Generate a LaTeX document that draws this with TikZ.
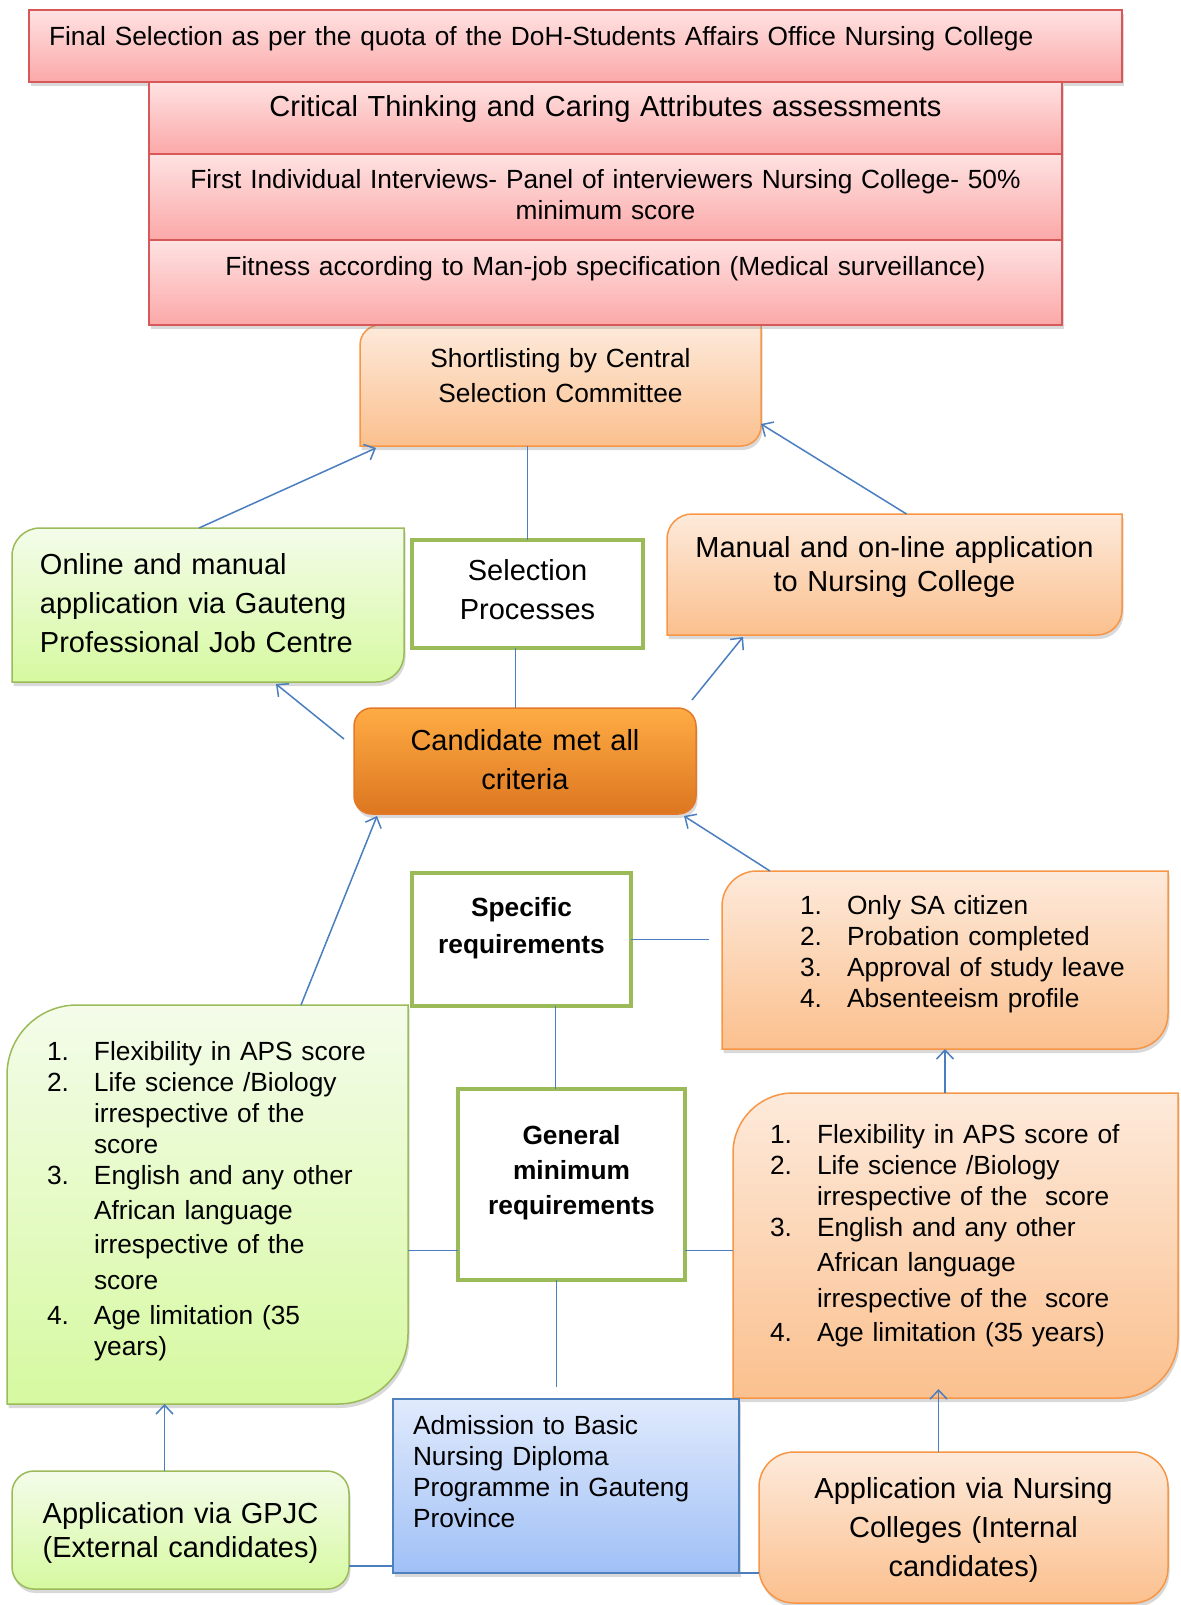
\documentclass[tikz,border=0pt]{standalone}
\usepackage{fontspec}
\setmainfont{Liberation Sans}
\usepackage{tikz}
\usetikzlibrary{arrows.meta, positioning, calc, shadows, backgrounds}

\definecolor{redline}{RGB}{214,88,88}
\definecolor{redtop}{RGB}{254,226,226}
\definecolor{redbot}{RGB}{252,168,168}
\definecolor{orangeline}{RGB}{247,150,70}
\definecolor{orangetop}{RGB}{253,234,219}
\definecolor{orangebot}{RGB}{251,192,142}
\definecolor{greenline}{RGB}{155,187,89}
\definecolor{greentop}{RGB}{244,252,234}
\definecolor{greenbot}{RGB}{214,249,160}
\definecolor{candtop}{RGB}{255,172,68}
\definecolor{candmid}{RGB}{247,146,48}
\definecolor{candbot}{RGB}{220,118,32}
\definecolor{candline}{RGB}{228,120,40}
\definecolor{blueline}{RGB}{79,129,189}
\definecolor{bluetop}{RGB}{224,234,252}
\definecolor{bluebot}{RGB}{160,192,246}
\definecolor{linkblue}{RGB}{74,126,190}

\newcommand{\itemno}[1]{\makebox[47pt][l]{#1.}}
\newcommand{\itemgap}{\hspace*{47pt}}
% outline with rounded top-left and bottom-right corners
\newcommand{\diagshape}[2]{(#1.south west) -- ([yshift=-#2]#1.north west) arc[start angle=180, end angle=90, radius=#2] -- (#1.north east) -- ([yshift=#2]#1.south east) arc[start angle=0, end angle=-90, radius=#2] -- cycle}

\tikzset{
    shadowed/.style={
        drop shadow={shadow xshift=1.5pt, shadow yshift=-4pt, opacity=0.3}
    },
    txt/.style 2 args={
        font=\fontsize{#1}{#2}\selectfont
    },
    boldtxt/.style 2 args={
        font=\bfseries\fontsize{#1}{#2}\selectfont
    },
    boxsize/.style n args={3}{
        text width=#1,
        text height=#2,
        text depth=#3
    },
    lpad/.style={
        align=left,
        execute at begin node={\leftskip=#1\relax}
    },
    redbox/.style={
        rectangle,
        draw=redline,
        line width=1.5pt,
        top color=redtop,
        bottom color=redbot,
        shadowed,
        inner sep=0pt,
        outer sep=0pt,
        align=center,
        txt={26.3}{31}
    },
    textarea/.style={
        rectangle,
        draw=none,
        inner sep=0pt,
        outer sep=0pt,
        align=center
    },
    orangefill/.style={
        draw=orangeline,
        line width=1.5pt,
        top color=orangetop,
        bottom color=orangebot,
        shadowed
    },
    greenfill/.style={
        draw=greenline,
        line width=1.5pt,
        top color=greentop,
        bottom color=greenbot,
        shadowed
    },
    whitebox/.style={
        rectangle,
        draw=greenline,
        line width=4.5pt,
        fill=white,
        inner sep=0pt,
        outer sep=0pt,
        align=center
    },
    candbox/.style={
        rectangle,
        rounded corners=18pt,
        draw=candline,
        line width=1.5pt,
        top color=candtop,
        middle color=candmid,
        bottom color=candbot,
        shadowed,
        inner sep=0pt,
        outer sep=0pt,
        align=center,
        txt={29}{39}
    },
    bluebox/.style={
        rectangle,
        draw=blueline,
        line width=1.5pt,
        top color=bluetop,
        bottom color=bluebot,
        shadowed,
        inner sep=0pt,
        outer sep=0pt
    },
    greenround/.style={
        rectangle,
        rounded corners=22pt,
        greenfill,
        inner sep=0pt,
        outer sep=0pt,
        align=center
    },
    orangeround/.style={
        rectangle,
        rounded corners=35pt,
        orangefill,
        inner sep=0pt,
        outer sep=0pt,
        align=center
    },
    link/.style={
        draw=linkblue,
        line width=1.5pt
    },
    arrow/.style={
        link,
        -{Straight Barb[length=9pt, width=17pt]}
    },
}

\begin{document}
\begin{tikzpicture}[x=1pt, y=1pt]
\useasboundingbox (0,0) rectangle (1180,-1605);

% Selection steps
\node[redbox, lpad=20pt, boxsize={1093pt}{36pt}{36pt}, anchor=north west] (final) at (29,-10)
    {Final Selection as per the quota of the DoH-Students Affairs Office Nursing College};
\node[redbox, txt={29}{35}, boxsize={913pt}{35pt}{37pt}, below right=0pt and 120pt of final.south west] (critical)
    {Critical Thinking and Caring Attributes assessments};
\node[redbox, boxsize={913pt}{35pt}{51pt}, below=0pt of critical] (interview)
    {First Individual Interviews- Panel of interviewers Nursing College- 50\%\\minimum score};
\node[redbox, boxsize={913pt}{35pt}{50pt}, below=0pt of interview] (fitness)
    {Fitness according to Man-job specification (Medical surveillance)};

% Shortlisting
\node[textarea, txt={26.3}{35}, boxsize={401pt}{42pt}{79pt}, below right=0pt and 211pt of fitness.south west] (shortlist)
    {Shortlisting by Central\\Selection Committee};

% Applications
\node[textarea, txt={29}{39}, lpad=28pt, boxsize={392pt}{46pt}{108pt}, anchor=north west] (online) at (12,-528)
    {Online and manual\\application via Gauteng\\Professional Job Centre};
\node[whitebox, txt={29}{39}, boxsize={231pt}{40pt}{68pt}, anchor=north west] (selproc) at (412,-540)
    {Selection\\Processes};
\node[textarea, txt={29}{34}, boxsize={455pt}{43pt}{78pt}, anchor=north west] (manual) at (667,-514)
    {Manual and on-line application\\to Nursing College};

% Candidate
\node[candbox, boxsize={342pt}{42pt}{64pt}, anchor=north west] (candidate) at (354,-708)
    {Candidate met all\\criteria};

% Specific requirements
\node[whitebox, boldtxt={26.3}{37}, boxsize={219pt}{43pt}{90pt}, anchor=north west] (specific) at (412,-873)
    {Specific\\requirements};
\node[textarea, txt={26.3}{31}, lpad=78pt, boxsize={446pt}{43pt}{135pt}, anchor=north west] (speclist) at (722,-871)
    {\itemno{1}Only SA citizen\\
     \itemno{2}Probation completed\\
     \itemno{3}Approval of study leave\\
     \itemno{4}Absenteeism profile};

% General minimum requirements
\node[textarea, txt={26.3}{31}, lpad=40pt, boxsize={401pt}{55pt}{344pt}, anchor=north west] (genlist) at (7,-1005)
    {\itemno{1}Flexibility in APS score\\
     \itemno{2}Life science /Biology\\
     \itemgap irrespective of the\\
     \itemgap score\\
     \itemno{3}English and any other\\[4pt]
     \itemgap African language\\[3pt]
     \itemgap irrespective of the\\[5pt]
     \itemgap score\\[4pt]
     \itemno{4}Age limitation (35\\
     \itemgap years)};
\node[whitebox, boldtxt={26.3}{35}, boxsize={227pt}{55pt}{136pt}, anchor=north west] (general) at (458,-1089)
    {General\\minimum\\requirements};
\node[textarea, txt={26.3}{31}, lpad=37pt, boxsize={445pt}{50pt}{255pt}, anchor=north west] (gencol) at (733,-1093)
    {\itemno{1}Flexibility in APS score of\\
     \itemno{2}Life science /Biology\\
     \itemgap irrespective of the\ \ score\\
     \itemno{3}English and any other\\[4pt]
     \itemgap African language\\[5pt]
     \itemgap irrespective of the\ \ score\\[3pt]
     \itemno{4}Age limitation (35 years)};

% Entry points
\node[bluebox, txt={26.3}{31}, lpad=20pt, boxsize={346pt}{35pt}{139pt}, anchor=north west] (admission) at (393,-1399)
    {Admission to Basic\\Nursing Diploma\\Programme in Gauteng\\Province};
\node[greenround, txt={29}{34}, boxsize={337pt}{52pt}{66pt}, anchor=north west] (gpjc) at (12,-1471)
    {Application via GPJC\\(External candidates)};
\node[orangeround, txt={29}{39}, boxsize={409pt}{46pt}{105pt}, anchor=north west] (nursing) at (759,-1452)
    {Application via Nursing\\Colleges (Internal\\candidates)};

% Box outlines behind the text
\begin{pgfonlayer}{background}
\path[orangefill] \diagshape{shortlist}{20pt};
\path[greenfill] \diagshape{online}{28pt};
\path[orangefill] \diagshape{manual}{25pt};
\path[orangefill] \diagshape{speclist}{35pt};
\path[greenfill] \diagshape{genlist}{70pt};
\path[orangefill] \diagshape{gencol}{60pt};
\end{pgfonlayer}

% Connector ends
\coordinate (genleft) at ([yshift=-66pt]general.west);
\coordinate (genright) at ([yshift=-66pt]general.east);
\coordinate (gpjcright) at ([yshift=-36pt]gpjc.east);

% Connectors
\draw[arrow] ([xshift=-9pt]online.north) -- ([shift={(16pt,-2pt)}]shortlist.south west);
\draw[arrow] ([xshift=12pt]manual.north) -- ([yshift=22pt]shortlist.south east);
\draw[link] (selproc.north) -- (selproc.north |- shortlist.south);
\draw[link] ([xshift=-12pt]selproc.south) -- ([xshift=-12pt]selproc.south |- candidate.north);
\draw[arrow] ([shift={(-10pt,22pt)}]candidate.west) -- ([shift={(-128pt,-2pt)}]online.south east);
\draw[arrow] ([shift={(-4pt,8pt)}]candidate.north east) -- ([shift={(76pt,-2pt)}]manual.south west);
\draw[arrow] ([xshift=294pt]genlist.north west) -- ([shift={(23pt,-2pt)}]candidate.south west);
\draw[arrow] ([xshift=48pt]speclist.north west) -- ([shift={(-12pt,-2pt)}]candidate.south east);
\draw[link] (specific.east) -- ([xshift=-13pt]speclist.west |- specific.east);
\draw[link] ([xshift=34pt]specific.south) -- ([xshift=34pt]specific.south |- general.north);
\draw[link] (genleft) -- (genlist.east |- genleft);
\draw[link] (genright) -- (gencol.west |- genright);
\draw[link, shorten >=12pt] ([xshift=-15pt]general.south) -- ([xshift=-15pt]general.south |- admission.north);
\draw[arrow] (speclist.south |- gencol.north) -- (speclist.south);
\draw[arrow, shorten >=-9pt] ([xshift=-25pt]nursing.north) -- ([xshift=-25pt]nursing.north |- gencol.south);
\draw[arrow] ([xshift=-16pt]gpjc.north) -- ([xshift=-16pt]gpjc.north |- genlist.south);
\draw[link] (gpjcright) -- (admission.west |- gpjcright);
\draw[link] (admission.south east) -- (admission.south east -| nursing.west);

\end{tikzpicture}
\end{document}
